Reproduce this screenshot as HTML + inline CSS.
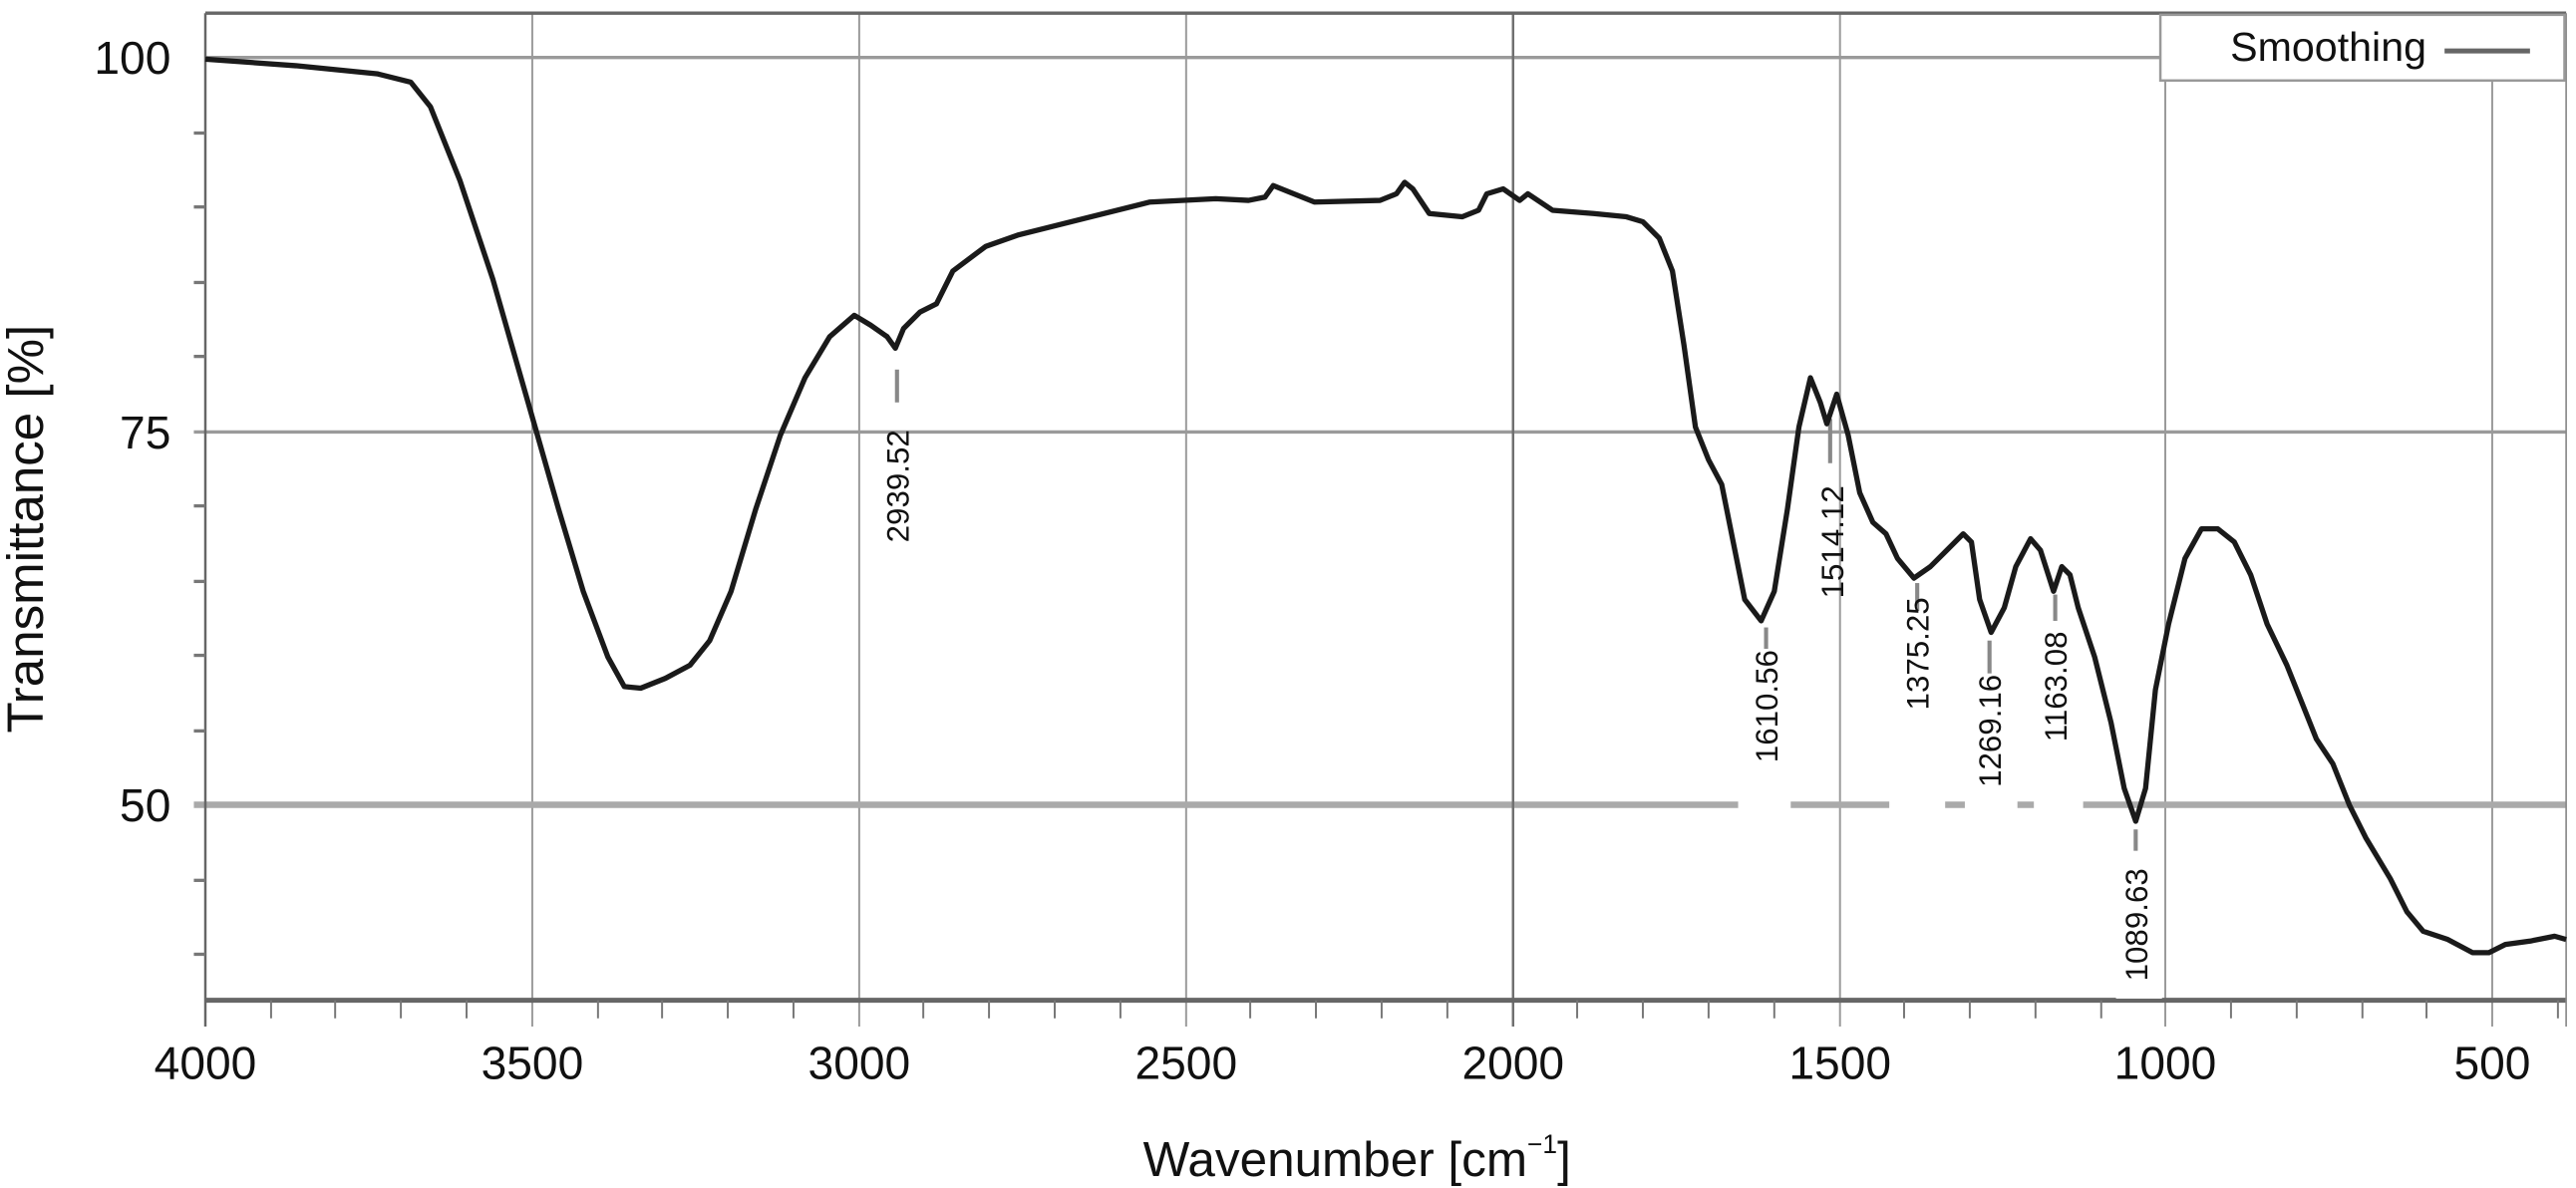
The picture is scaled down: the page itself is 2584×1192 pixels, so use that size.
<!DOCTYPE html>
<html><head><meta charset="utf-8"><style>
html,body{margin:0;padding:0;background:#fff;}
svg{display:block;}
text{font-family:"Liberation Sans",sans-serif;fill:#111;}
</style></head><body>
<svg width="2584" height="1192" viewBox="0 0 1568 723.3" xmlns="http://www.w3.org/2000/svg">
<rect width="1568" height="723.3" fill="#fff"/>
<g stroke="#9a9a9a" stroke-width="1.2">
<line x1="324" y1="8" x2="324" y2="625"/>
<line x1="523" y1="8" x2="523" y2="625"/>
<line x1="722" y1="8" x2="722" y2="625"/>
<line x1="1120" y1="8" x2="1120" y2="625"/>
<line x1="1318" y1="48" x2="1318" y2="625"/>
<line x1="1517" y1="48" x2="1517" y2="625"/>
<line x1="125" y1="35" x2="1562" y2="35" stroke-width="2"/>
<line x1="118" y1="263" x2="1562" y2="263" stroke-width="2"/>
<line x1="118" y1="490" x2="1562" y2="490" stroke="#aaa" stroke-width="4"/>
</g>
<line x1="921" y1="8" x2="921" y2="625" stroke="#707070" stroke-width="1.5"/>
<line x1="125" y1="8" x2="1562" y2="8" stroke="#666" stroke-width="2"/>
<line x1="125" y1="8" x2="125" y2="625" stroke="#666" stroke-width="1.5"/>
<line x1="125" y1="609" x2="1562" y2="609" stroke="#666" stroke-width="3"/>
<line x1="1562" y1="8" x2="1562" y2="625" stroke="#888" stroke-width="1"/>
<g stroke="#777" stroke-width="2">
<line x1="118" y1="81" x2="125" y2="81"/><line x1="118" y1="126" x2="125" y2="126"/>
<line x1="118" y1="172" x2="125" y2="172"/><line x1="118" y1="217" x2="125" y2="217"/>
<line x1="118" y1="308" x2="125" y2="308"/><line x1="118" y1="354" x2="125" y2="354"/>
<line x1="118" y1="399" x2="125" y2="399"/><line x1="118" y1="445" x2="125" y2="445"/>
<line x1="118" y1="536" x2="125" y2="536"/><line x1="118" y1="581" x2="125" y2="581"/>
</g>
<g stroke="#777" stroke-width="1.2">
<line x1="165" y1="609" x2="165" y2="620"/><line x1="204" y1="609" x2="204" y2="620"/><line x1="244" y1="609" x2="244" y2="620"/><line x1="284" y1="609" x2="284" y2="620"/>
<line x1="364" y1="609" x2="364" y2="620"/><line x1="403" y1="609" x2="403" y2="620"/><line x1="443" y1="609" x2="443" y2="620"/><line x1="483" y1="609" x2="483" y2="620"/>
<line x1="562" y1="609" x2="562" y2="620"/><line x1="602" y1="609" x2="602" y2="620"/><line x1="642" y1="609" x2="642" y2="620"/><line x1="682" y1="609" x2="682" y2="620"/>
<line x1="761" y1="609" x2="761" y2="620"/><line x1="801" y1="609" x2="801" y2="620"/><line x1="841" y1="609" x2="841" y2="620"/><line x1="881" y1="609" x2="881" y2="620"/>
<line x1="960" y1="609" x2="960" y2="620"/><line x1="1000" y1="609" x2="1000" y2="620"/><line x1="1040" y1="609" x2="1040" y2="620"/><line x1="1080" y1="609" x2="1080" y2="620"/>
<line x1="1159" y1="609" x2="1159" y2="620"/><line x1="1199" y1="609" x2="1199" y2="620"/><line x1="1239" y1="609" x2="1239" y2="620"/><line x1="1279" y1="609" x2="1279" y2="620"/>
<line x1="1358" y1="609" x2="1358" y2="620"/><line x1="1398" y1="609" x2="1398" y2="620"/><line x1="1438" y1="609" x2="1438" y2="620"/><line x1="1477" y1="609" x2="1477" y2="620"/><line x1="1557" y1="609" x2="1557" y2="620"/>
</g>
<g font-size="28" text-anchor="end">
<text x="104" y="45">100</text><text x="104" y="273">75</text><text x="104" y="500">50</text>
</g>
<g font-size="28" text-anchor="middle">
<text x="125" y="657">4000</text><text x="324" y="657">3500</text><text x="523" y="657">3000</text><text x="722" y="657">2500</text>
<text x="921" y="657">2000</text><text x="1120" y="657">1500</text><text x="1318" y="657">1000</text><text x="1517" y="657">500</text>
</g>
<text x="826" y="716" font-size="30" text-anchor="middle">Wavenumber [cm<tspan font-size="16" dy="-14">−1</tspan><tspan dy="14">]</tspan></text>
<text transform="translate(26,322) rotate(-90)" font-size="31" text-anchor="middle">Transmittance [%]</text>
<rect x="1315" y="9" width="246" height="40" fill="#fff" stroke="#999" stroke-width="1.5"/>
<text x="1477" y="37" font-size="25" text-anchor="end">Smoothing</text>
<line x1="1488" y1="31" x2="1540" y2="31" stroke="#666" stroke-width="3"/>
<g fill="#fff">
<rect x="1058" y="396" width="32" height="102"/>
<rect x="1150" y="355" width="34" height="140"/>
<rect x="1196" y="395" width="32" height="100"/>
<rect x="1238" y="372" width="30" height="125"/>
<rect x="1288" y="520" width="28" height="88"/>
</g>
<g stroke="#888" stroke-width="2.5">
<line x1="546" y1="225" x2="546" y2="245"/>
<line x1="1075" y1="382" x2="1075" y2="395"/>
<line x1="1114" y1="255" x2="1114" y2="282"/>
<line x1="1167" y1="355" x2="1167" y2="372"/>
<line x1="1211" y1="390" x2="1211" y2="410"/>
<line x1="1251" y1="362" x2="1251" y2="378"/>
<line x1="1300" y1="505" x2="1300" y2="518"/>
</g>
<g font-size="19" text-anchor="middle">
<text transform="translate(553,296) rotate(-90)">2939.52</text>
<text transform="translate(1082,430) rotate(-90)">1610.56</text>
<text transform="translate(1122,330) rotate(-90)">1514.12</text>
<text transform="translate(1174,398) rotate(-90)">1375.25</text>
<text transform="translate(1218,445) rotate(-90)">1269.16</text>
<text transform="translate(1258,418) rotate(-90)">1163.08</text>
<text transform="translate(1307,563) rotate(-90)">1089.63</text>
</g>
<polyline fill="none" stroke="#1a1a1a" stroke-width="3.2" stroke-linejoin="round" points="
125,36 180,40 230,45 250,50 262,65 280,110 300,170 320,240 340,310 355,360 370,400 380,418 390,419 405,413 420,405 432,390 445,360 460,310 475,265 490,230 505,205 520,192 530,198 540,205 545,212 550,200 560,190 570,185 580,165 600,150 620,143 660,133 700,123 740,121 760,122 770,120 775,113 785,117 800,123 840,122 850,118 855,111 860,115 870,130 890,132 900,128 905,118 915,115 925,122 930,118 945,128 970,130 990,132 1000,135 1010,145 1018,165 1025,210 1032,260 1040,280 1048,295 1055,330 1062,365 1072,378 1080,360 1088,310 1095,260 1102,230 1108,245 1112,258 1118,240 1125,265 1132,300 1140,318 1148,325 1155,340 1165,352 1175,345 1185,335 1195,325 1200,330 1205,365 1212,385 1220,370 1227,345 1236,328 1242,335 1250,360 1255,345 1260,350 1265,370 1275,400 1285,440 1293,480 1300,500 1306,480 1312,420 1320,380 1330,340 1340,322 1350,322 1360,330 1370,350 1380,380 1392,405 1402,430 1410,450 1420,465 1430,490 1440,510 1455,535 1465,555 1475,567 1490,572 1505,580 1515,580 1525,575 1540,573 1555,570 1562,572"/>
</svg>
</body></html>
